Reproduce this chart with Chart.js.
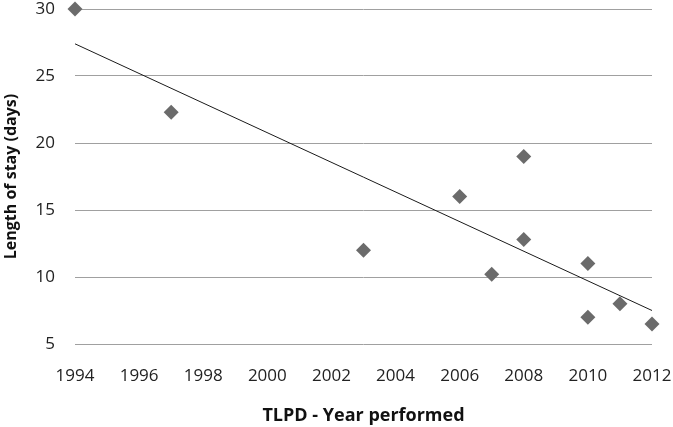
<!DOCTYPE html>
<html>
<head>
<meta charset="utf-8">
<script src="https://cdn.jsdelivr.net/npm/chart.js@4/dist/chart.umd.min.js"></script>
<style>
  html, body { margin: 0; padding: 0; background: #fff; }
  #wrap { width: 673px; height: 427px; }
</style>
</head>
<body>
<div id="wrap"><canvas id="chart" width="673" height="427"></canvas></div>
<script>
const years = [1994, 1997, 2003, 2006, 2007, 2008, 2008, 2010, 2010, 2011, 2012];
const stayDays = [30, 22.3, 12, 16, 10.2, 19, 12.8, 11, 7, 8, 6.5];
const trendYears = [1994, 2012];
const trendDays = [27.4, 7.5];
const xTicks = [1994, 1996, 1998, 2000, 2002, 2004, 2006, 2008, 2010, 2012];
const yTicks = [5, 10, 15, 20, 25, 30];

const FONT = "'Open Sans', Lato, sans-serif";

const points = years.map((x, i) => ({ x, y: stayDays[i] }));
const trend = trendYears.map((x, i) => ({ x, y: trendDays[i] }));

new Chart(document.getElementById("chart").getContext("2d"), {
  type: "scatter",
  data: {
    datasets: [
      {
        label: "Length of stay",
        data: points,
        pointStyle: "rectRot",
        pointRadius: 7.5,
        pointHoverRadius: 7.5,
        backgroundColor: "#6b6b6b",
        borderColor: "#6b6b6b",
        borderWidth: 0,
        clip: false,
      },
      {
        type: "line",
        label: "Trend",
        data: trend,
        borderColor: "#1a1a1a",
        borderWidth: 1,
        pointRadius: 0,
        fill: false,
        clip: false,
      },
    ],
  },
  options: {
    responsive: false,
    animation: false,
    layout: { padding: { left: 0, right: 21, top: 9, bottom: 0 } },
    plugins: {
      legend: { display: false },
      tooltip: { enabled: false },
    },
    scales: {
      x: {
        type: "linear",
        min: 1994,
        max: 2012,
        afterBuildTicks: (axis) => {
          axis.ticks = xTicks.map((v) => ({ value: v }));
        },
        afterFit: (axis) => {
          axis.height = 83;
          axis.paddingLeft = 0;
          axis.paddingRight = 0;
        },
        grid: { display: false, drawTicks: false },
        border: { display: false },
        ticks: {
          color: "#222",
          font: { family: FONT, size: 17 },
          padding: 22,
          maxRotation: 0,
          callback: (v) => String(v),
        },
        title: {
          display: true,
          text: "TLPD - Year performed",
          color: "#111",
          font: { family: FONT, size: 18, weight: "bold" },
          padding: { top: 0, bottom: 0 },
        },
      },
      y: {
        min: 5,
        max: 30,
        afterBuildTicks: (axis) => {
          axis.ticks = yTicks.map((v) => ({ value: v }));
        },
        afterFit: (axis) => {
          axis.width = 75;
          axis.paddingTop = 0;
          axis.paddingBottom = 0;
        },
        grid: { color: "#a0a0a0", lineWidth: 1, drawTicks: false },
        border: { display: false },
        ticks: {
          color: "#222",
          font: { family: FONT, size: 17 },
          padding: 20,
          callback: (v) => String(v),
        },
        title: {
          display: true,
          text: "Length of stay (days)",
          color: "#111",
          font: { family: FONT, size: 16, weight: "bold" },
          padding: { top: 2, bottom: 0 },
        },
      },
    },
  },
});
</script>
</body>
</html>
